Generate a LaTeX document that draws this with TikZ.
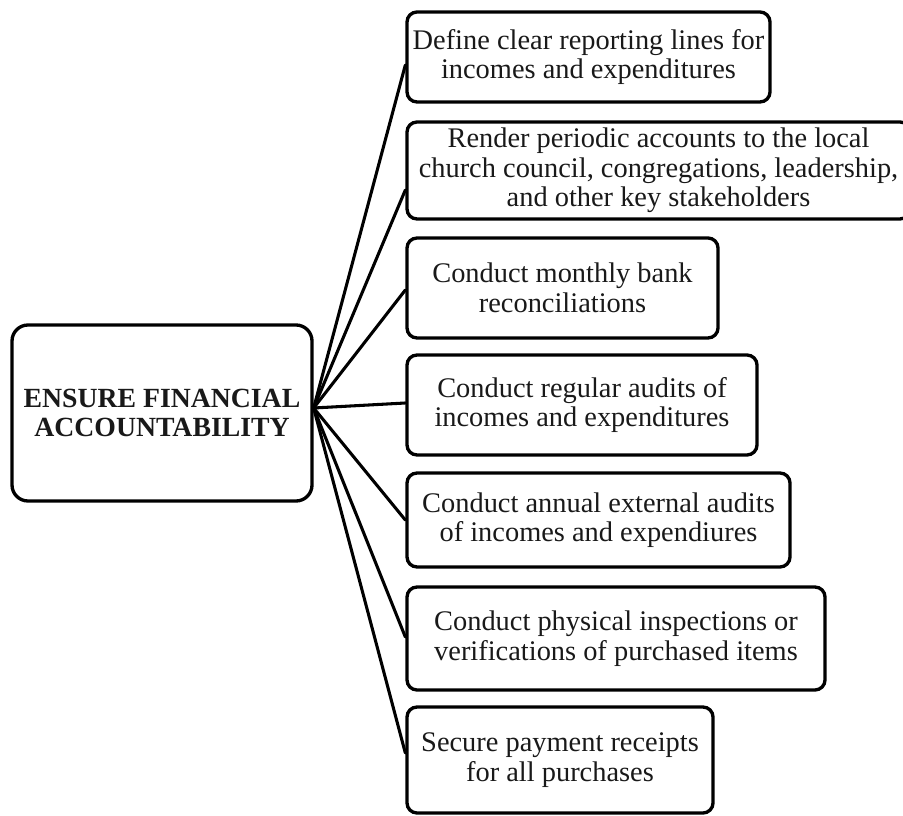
\documentclass[tikz,border=0pt]{standalone}
\usepackage{fontspec}
\setmainfont{Liberation Serif}
\usetikzlibrary{calc}
\begin{document}
\begin{tikzpicture}[x=0.75pt,y=-0.75pt,
  box/.style={draw=black, line width=2.5pt, rounded corners=7.5pt, inner sep=0pt,
    align=center, text=black!90, font=\fontsize{21.3}{22.2}\selectfont},
  hubbox/.style={box, rounded corners=12pt, font=\fontsize{20.8}{21.75}\selectfont\bfseries},
  link/.style={line width=2.3pt, line cap=round}]
\useasboundingbox (0,0) rectangle (903,816);

% central node
\node[hubbox, minimum width=300*0.75pt, minimum height=176*0.75pt] (hub) at (162,413)
  {ENSURE FINANCIAL\\ACCOUNTABILITY};

% actions
\node[box, minimum width=363*0.75pt, minimum height=90*0.75pt] (b1) at (588.5,57)
  {Define clear reporting lines for\\incomes and expenditures};
\node[box, minimum width=503*0.75pt, minimum height=97*0.75pt] (b2) at (658.5,170.5)
  {Render periodic accounts to the local\\church council, congregations, leadership,\\and other key stakeholders};
\node[box, minimum width=311*0.75pt, minimum height=100*0.75pt] (b3) at (562.5,288)
  {Conduct monthly bank\\reconciliations};
\node[box, minimum width=350*0.75pt, minimum height=100*0.75pt] (b4) at (582,405)
  {Conduct regular audits of\\incomes and expenditures};
\node[box, minimum width=383*0.75pt, minimum height=94*0.75pt] (b5) at (598.5,520)
  {Conduct annual external audits\\of incomes and expendiures};
\node[box, minimum width=418*0.75pt, minimum height=103*0.75pt] (b6) at (616,638.5)
  {Conduct physical inspections or\\verifications of purchased items};
\node[box, minimum width=306*0.75pt, minimum height=106*0.75pt] (b7) at (560,760)
  {Secure payment receipts\\for all purchases};

% connectors fanning out from one point on the central node
\coordinate (hubpt) at ($(hub.east)+(0,-5)$);
\draw[link] (hubpt) -- ($(b1.west)+(0,8)$);
\draw[link] (hubpt) -- ($(b2.west)+(0,19.5)$);
\draw[link] (hubpt) -- ($(b3.west)+(0,2)$);
\draw[link] (hubpt) -- ($(b4.west)+(0,-2)$);
\draw[link] (hubpt) -- (b5.west);
\draw[link] (hubpt) -- ($(b6.west)+(0,-1.5)$);
\draw[link] (hubpt) -- ($(b7.west)+(0,-7)$);
\end{tikzpicture}
\end{document}
